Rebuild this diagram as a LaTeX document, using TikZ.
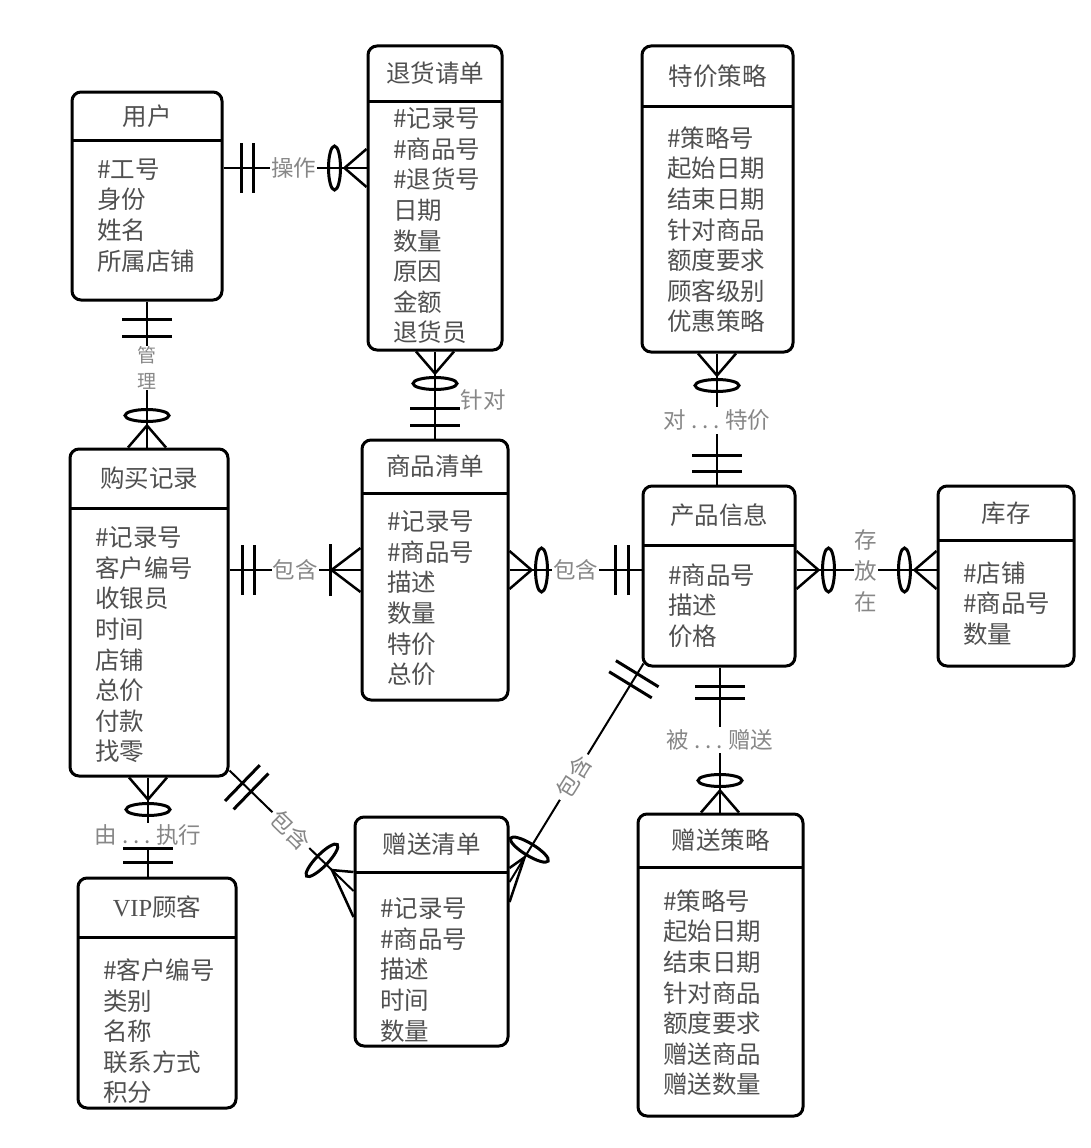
\documentclass[tikz,border=0pt]{standalone}
\usepackage{fontspec}
\setmainfont{Noto Sans CJK SC}
\newfontfamily\latinserif{Liberation Serif}
\usetikzlibrary{calc}

\definecolor{ink}{RGB}{80,80,80}
\definecolor{lbl}{RGB}{135,135,135}

% entity box: name, x1, y1, x2, y2, header line y, title, attributes, centre of first attribute line
\newcommand\entity[9]{%
  \node[box, minimum width={#4-#2}, minimum height={#5-#3}] (#1) at ({(#2+#4)/2},{(#3+#5)/2}) {};
  \draw[line width=3pt] (#2,#6) -- (#4,#6);
  \node[ttl] (#1-title) at ({(#2+#4)/2},{(#3+#6)/2}) {#7};
  \node[attrs] (#1-attrs) at (#2+25,#9-11.5) {#8};
}
% end symbol of a relationship line, placed at #1 and pointing towards #2
\newcommand\erend[3]{\path let \p1=(#1), \p2=(#2), \n1={atan2(\y2-\y1,\x2-\x1)} in pic[rotate=\n1] at (\p1) {#3};}

\tikzset{
  pics/twobar/.style 2 args={code={\draw[line width=3pt] (#1,-25) -- (#1,25) (#2,-25) -- (#2,25);}},
  pics/crowzero/.style={code={%
    \draw[line width=2.5pt] (0,-19) -- (22,0) -- (0,19);
    \draw[line width=3pt] (32,0) ellipse [x radius=6pt, y radius=22pt];}},
  pics/crowone/.style={code={%
    \draw[line width=2.5pt] (0,-22) -- (29,0) -- (0,22);
    \draw[line width=3pt] (30,-26) -- (30,26);}},
  pics/ering/.style={code={\draw[line width=3pt] (#1,0) ellipse [x radius=6pt, y radius=22pt];}},
}

\begin{document}
\begin{tikzpicture}[x=1pt, y=-1pt,
  box/.style={draw, line width=3pt, rounded corners=9pt, inner sep=0pt},
  ttl/.style={font=\fontsize{24.5}{28}\selectfont, text=ink, inner sep=0pt},
  attrs/.style={font=\fontsize{24.5}{30.6}\selectfont, text=ink, align=left, anchor=north west, inner sep=0pt},
  rel/.style={line width=2pt},
  lab/.style={font=\fontsize{22.5}{24}\selectfont, text=lbl, fill=white, inner sep=1pt},
  vlab/.style={font=\fontsize{22.5}{31}\selectfont, text=lbl, fill=white, align=center, inner sep=1pt},
  line cap=butt]

\fill[white] (0,0) rectangle (1091,1148);
\useasboundingbox (0,0) rectangle (1091,1148);

% entities
\entity{user}{72}{92}{222}{300}{140}{用户}{\#工号\\身份\\姓名\\所属店铺}{170}
\entity{ret}{368}{46}{502}{350}{101}{退货请单}{\#记录号\\\#商品号\\\#退货号\\日期\\数量\\原因\\金额\\退货员}{119}
\entity{spec}{642}{46}{793}{352}{106}{特价策略}{\#策略号\\起始日期\\结束日期\\针对商品\\额度要求\\顾客级别\\优惠策略}{138}
\entity{buy}{70}{449}{228}{776}{508}{购买记录}{\#记录号\\客户编号\\收银员\\时间\\店铺\\总价\\付款\\找零}{538}
\entity{goods}{362}{440}{508}{700}{493}{商品清单}{\#记录号\\\#商品号\\描述\\数量\\特价\\总价}{522}
\entity{prod}{643}{486}{795}{666}{545}{产品信息}{\#商品号\\描述\\价格}{575}
\entity{stock}{938}{486}{1074}{666}{540}{库存}{\#店铺\\\#商品号\\数量}{573}
\entity{vip}{78}{878}{236}{1108}{937}{{\latinserif VIP}顾客}{\#客户编号\\类别\\名称\\联系方式\\积分}{970}
\entity{gift}{355}{817}{508}{1046}{872}{赠送清单}{\#记录号\\\#商品号\\描述\\时间\\数量}{909}
\entity{gstrat}{638}{814}{803}{1116}{867}{赠送策略}{\#策略号\\起始日期\\结束日期\\针对商品\\额度要求\\赠送商品\\赠送数量}{901}

% 用户 -- 退货请单
\coordinate (user-r) at (user.east |- 0,168);
\coordinate (ret-l) at (ret.west |- 0,168);
\draw[rel] (user-r) -- node[lab, pos=0.49] {操作} (ret-l);
\erend{user-r}{ret-l}{twobar={18}{30}}
\erend{ret-l}{user-r}{crowzero}

% 用户 -- 购买记录
\coordinate (user-b) at (user.south);
\coordinate (buy-t) at (user.south |- buy.north);
\draw[rel] (user-b) -- (buy-t);
\node[vlab, font=\fontsize{19}{26}\selectfont] (lab-manage) at (147,368) {管\\理};
\erend{user-b}{buy-t}{twobar={18}{35}}
\erend{buy-t}{user-b}{crowzero}

% 退货请单 -- 商品清单
\coordinate (ret-b) at (ret.south);
\coordinate (goods-t) at (ret.south |- goods.north);
\draw[rel] (ret-b) -- (goods-t);
\node[lab, fill=none] (lab-for) at (483,400) {针对};
\erend{ret-b}{goods-t}{crowzero}
\erend{goods-t}{ret-b}{twobar={13}{30}}

% 特价策略 -- 产品信息
\coordinate (spec-b) at (717,352);
\coordinate (prod-t) at (spec-b |- prod.north);
\draw[rel] (spec.south -| spec-b) -- node[lab, pos=0.51, inner sep=3pt] {对\hspace{5pt}.\hspace{5pt}.\hspace{5pt}.\hspace{5pt}特价} (prod-t);
\erend{spec.south -| spec-b}{prod-t}{crowzero}
\erend{prod-t}{spec-b}{twobar={13}{29}}

% 购买记录 -- 商品清单
\coordinate (buy-r) at (buy.east |- 0,570);
\coordinate (goods-l) at (goods.west |- 0,570);
\draw[rel] (buy-r) -- node[lab, pos=0.5] {包含} (goods-l);
\erend{buy-r}{goods-l}{twobar={13}{25}}
\erend{goods-l}{buy-r}{crowone}

% 商品清单 -- 产品信息
\coordinate (goods-r) at (goods.east |- 0,570);
\coordinate (prod-l) at (prod.west |- 0,570);
\draw[rel] (goods-r) -- node[lab, pos=0.5] {包含} (prod-l);
\erend{goods-r}{prod-l}{crowzero}
\erend{prod-l}{goods-r}{twobar={13}{26}}

% 产品信息 -- 库存
\coordinate (prod-r) at (prod.east |- 0,570);
\coordinate (stock-l) at (stock.west |- 0,570);
\draw[rel] (prod-r) -- (stock-l);
\node[vlab] (lab-store) at (866,571) {存\\放\\在};
\erend{prod-r}{stock-l}{crowzero}
\erend{stock-l}{prod-r}{crowzero}

% 产品信息 -- 赠送策略
\coordinate (prod-b) at (720,666);
\coordinate (gstrat-t) at (prod-b |- gstrat.north);
\draw[rel] (prod.south -| prod-b) -- node[lab, pos=0.5, inner sep=3pt] {被\hspace{5pt}.\hspace{5pt}.\hspace{5pt}.\hspace{5pt}赠送} (gstrat-t);
\erend{prod.south -| prod-b}{gstrat-t}{twobar={19}{31}}
\erend{gstrat-t}{prod-b}{crowzero}

% 购买记录 -- VIP顾客
\coordinate (buy-b) at (148,776);
\coordinate (vip-t) at (buy-b |- vip.north);
\draw[rel] (buy.south -| buy-b) -- node[lab, pos=0.58, inner sep=2pt] {由\hspace{5pt}.\hspace{5pt}.\hspace{5pt}.\hspace{5pt}执行} (vip-t);
\erend{buy.south -| buy-b}{vip-t}{crowzero}
\erend{vip-t}{buy-b}{twobar={14}{28}}

% 购买记录 -- 赠送清单 (diagonal)
\coordinate (buy-c) at ([yshift=7pt]buy.south east);
\coordinate (gift-l) at (gift.west |- 0,891);
\draw[rel] (buy-c) -- node[lab, sloped, pos=0.495, inner sep=3pt] {包含} (gift-l);
\erend{buy-c}{gift-l}{twobar={18}{30}}
\erend{gift-l}{buy-c}{ering={44}}
\coordinate (gift-lx) at ($(gift-l)!30pt!(buy-c)$);
\draw[line width=2.5pt] (gift.west |- 0,872) -- (gift-lx) -- (gift.west |- 0,917);

% 产品信息 -- 赠送清单 (diagonal)
\coordinate (prod-c) at ([xshift=2pt, yshift=4pt]prod.south west);
\coordinate (gift-r) at (gift.east |- 0,882);
\draw[rel] (prod-c) -- node[lab, sloped, pos=0.52, inner sep=4pt] {包含} (gift-r);
\erend{prod-c}{gift-r}{twobar={12}{25}}
\erend{gift-r}{prod-c}{ering={38}}
\coordinate (gift-rx) at ($(gift-r)!29pt!(prod-c)$);
\draw[line width=2.5pt] (gift.east |- 0,868) -- (gift-rx) -- (gift.east |- 0,902);

\end{tikzpicture}
\end{document}
